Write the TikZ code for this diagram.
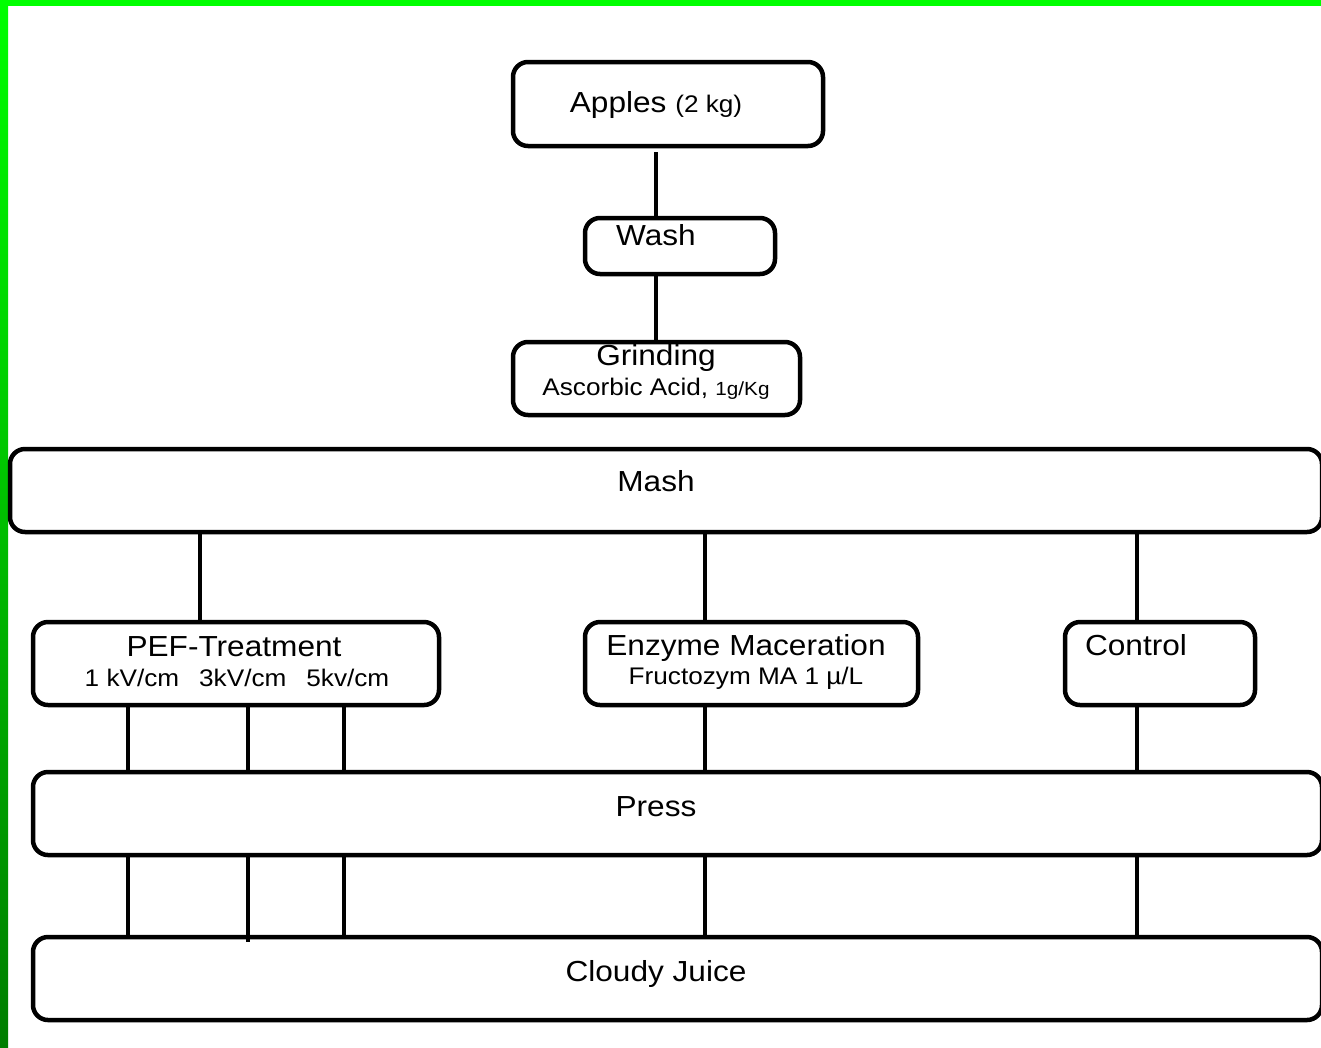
\documentclass[tikz,border=0pt]{standalone}
\usepackage{fontspec}
\setmainfont{Liberation Sans}[FakeStretch=1.09]
\newcommand{\mainsz}{\fontsize{29}{34}\selectfont}
\newcommand{\subsz}{\fontsize{24}{28}\selectfont}
\newcommand{\smallsz}{\fontsize{19}{22}\selectfont}
\definecolor{brightgreen}{RGB}{0,255,0}
\definecolor{darkgreen}{RGB}{0,125,0}
\begin{document}
\begin{tikzpicture}[x=1pt,y=-1pt,
  box/.style={draw=black, line width=4.5pt, rounded corners=15pt, rectangle, inner sep=0pt, fill=white},
  conn/.style={line width=4.5pt, draw=black},
  txt/.style={inner sep=0pt, anchor=base, font=\mainsz},
  subtxt/.style={inner sep=0pt, anchor=base, font=\subsz}]
\useasboundingbox (0,0) rectangle (1321,1047);
\clip (0,0) rectangle (1321,1047);
\fill[white] (0,0) rectangle (1321,1047);
% green frame
\shade[top color=brightgreen, bottom color=darkgreen] (0,0) rectangle (8,1047);
\fill[brightgreen] (0,0) rectangle (1321,6);
% boxes
\node[box, minimum width=310pt, minimum height=84pt] (apples) at (668,104) {};
\node[box, minimum width=190pt, minimum height=56pt] (wash) at (680,246) {};
\node[box, minimum width=287pt, minimum height=73pt] (grind) at (656.5,378.5) {};
\node[box, minimum width=1312pt, minimum height=83pt] (mash) at (666,490.5) {};
\node[box, minimum width=406pt, minimum height=83pt] (pef) at (236,663.5) {};
\node[box, minimum width=333pt, minimum height=83pt] (enz) at (751.5,663.5) {};
\node[box, minimum width=190pt, minimum height=83pt] (ctrl) at (1160,663.5) {};
\node[box, minimum width=1289pt, minimum height=83pt] (press) at (677.5,813.5) {};
\node[box, minimum width=1289pt, minimum height=83pt] (juice) at (677.5,978.5) {};
% texts
\node[txt] (tapples) at (656,112) {Apples {\subsz (2 kg)}};
\node[txt] (twash) at (656,245) {Wash};
\node[txt] (tgrind) at (656,365) {Grinding};
\node[subtxt] (tgrind2) at (656,395) {Ascorbic Acid, {\smallsz 1g/Kg}};
\node[txt] (tmash) at (656,491) {Mash};
\node[txt] (tpef) at (234,656) {PEF-Treatment};
\node[subtxt] (tpef2) at (237,686) {1 kV/cm\hspace{20pt}3kV/cm\hspace{20pt}5kv/cm};
\node[txt] (tenz) at (746,655) {Enzyme Maceration};
\node[subtxt] (tenz2) at (746,684) {Fructozym MA 1 µ/L};
\node[txt] (tctrl) at (1136,655) {Control};
\node[txt] (tpress) at (656,816) {Press};
\node[txt] (tjuice) at (656,981) {Cloudy Juice};
% connectors
\draw[conn, shorten <=4pt] (656,0 |- apples.south) -- (656,0 |- wash.north);
\draw[conn] (656,0 |- wash.south) -- (656,0 |- grind.north);
\draw[conn] (200,0 |- mash.south) -- (200,0 |- pef.north);
\draw[conn] (705,0 |- mash.south) -- (705,0 |- enz.north);
\draw[conn] (1137,0 |- mash.south) -- (1137,0 |- ctrl.north);
\draw[conn] (128,0 |- pef.south) -- (128,0 |- press.north);
\draw[conn] (248,0 |- pef.south) -- (248,0 |- press.north);
\draw[conn] (344,0 |- pef.south) -- (344,0 |- press.north);
\draw[conn] (705,0 |- enz.south) -- (705,0 |- press.north);
\draw[conn] (1137,0 |- ctrl.south) -- (1137,0 |- press.north);
\draw[conn] (128,0 |- press.south) -- (128,0 |- juice.north);
\draw[conn, shorten >=-7pt] (248,0 |- press.south) -- (248,0 |- juice.north);
\draw[conn] (344,0 |- press.south) -- (344,0 |- juice.north);
\draw[conn] (705,0 |- press.south) -- (705,0 |- juice.north);
\draw[conn] (1137,0 |- press.south) -- (1137,0 |- juice.north);
\end{tikzpicture}
\end{document}
